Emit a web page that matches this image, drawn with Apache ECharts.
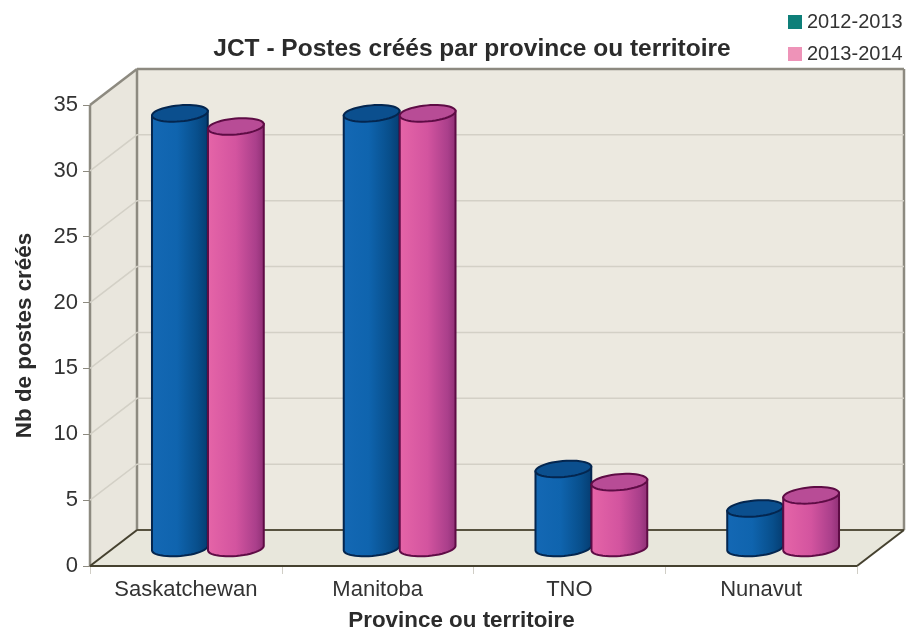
<!DOCTYPE html>
<html>
<head>
<meta charset="utf-8">
<style>
  html, body { margin: 0; padding: 0; background: #fff; }
  #main { width: 914px; height: 629px; }
</style>
<script src="https://cdn.jsdelivr.net/npm/echarts@6/dist/echarts.min.js"></script>
</head>
<body>
<div id="main"></div>
<script>
const provinces = ['Saskatchewan', 'Manitoba', 'TNO', 'Nunavut'];
const postes2012 = [33, 33, 6, 3];
const postes2013 = [32, 33, 5, 4];
const gridTicks = [5, 10, 15, 20, 25, 30];

// depth of the fake 3d box, in pixels
const DEPTH_X = 47;
const DEPTH_Y = 36;
// bars stand in the middle of the box depth
const BAR_DX = 22;
const BAR_DY = 18;
const BAR_W = 56;
const ELL_RY = 8;
const ELL_TILT = 5 * Math.PI / 180;

const font = '"Liberation Sans", Arial, sans-serif';

function ellipsePoint(cx, cy, t) {
  const ex = (BAR_W / 2) * Math.cos(t);
  const ey = ELL_RY * Math.sin(t);
  return [
    cx + ex * Math.cos(ELL_TILT) + ey * Math.sin(ELL_TILT),
    cy - ex * Math.sin(ELL_TILT) + ey * Math.cos(ELL_TILT)
  ];
}

function renderBox(params) {
  const g = params.coordSys;
  const x0 = g.x, x1 = g.x + g.width, y0 = g.y, y1 = g.y + g.height;
  const wall = '#ece9e0';
  const edge = { stroke: '#8d8a80', lineWidth: 2.5, fill: null };
  const line = (a, b, style) => ({ type: 'line', shape: { x1: a[0], y1: a[1], x2: b[0], y2: b[1] }, style });
  return {
    type: 'group',
    children: [
      { type: 'polygon', shape: { points: [[x0 + DEPTH_X, y0 - DEPTH_Y], [x1 + DEPTH_X, y0 - DEPTH_Y], [x1 + DEPTH_X, y1 - DEPTH_Y], [x0 + DEPTH_X, y1 - DEPTH_Y]] }, style: { fill: wall } },
      { type: 'polygon', shape: { points: [[x0, y0], [x0 + DEPTH_X, y0 - DEPTH_Y], [x0 + DEPTH_X, y1 - DEPTH_Y], [x0, y1]] }, style: { fill: '#e9e6dd' } },
      { type: 'polygon', shape: { points: [[x0, y1], [x0 + DEPTH_X, y1 - DEPTH_Y], [x1 + DEPTH_X, y1 - DEPTH_Y], [x1, y1]] }, style: { fill: '#e8e7dc' } },
      line([x0, y0], [x0 + DEPTH_X, y0 - DEPTH_Y], edge),
      line([x0 + DEPTH_X, y0 - DEPTH_Y], [x1 + DEPTH_X, y0 - DEPTH_Y], edge),
      line([x1 + DEPTH_X, y0 - DEPTH_Y], [x1 + DEPTH_X, y1 - DEPTH_Y], edge),
      line([x0 + DEPTH_X, y0 - DEPTH_Y], [x0 + DEPTH_X, y1 - DEPTH_Y], edge),
      line([x0, y0], [x0, y1], edge),
      line([x0 + DEPTH_X, y1 - DEPTH_Y], [x1 + DEPTH_X, y1 - DEPTH_Y], { stroke: '#57523f', lineWidth: 2 }),
      line([x0, y1], [x0 + DEPTH_X, y1 - DEPTH_Y], { stroke: '#45412f', lineWidth: 2 }),
      line([x1, y1], [x1 + DEPTH_X, y1 - DEPTH_Y], { stroke: '#45412f', lineWidth: 2 }),
      line([x0, y1], [x1, y1], { stroke: '#45412f', lineWidth: 2 })
    ]
  };
}

function renderGridLine(params, api) {
  const g = params.coordSys;
  const y = api.coord([0, api.value(1)])[1];
  return {
    type: 'polyline',
    shape: { points: [[g.x, y], [g.x + DEPTH_X, y - DEPTH_Y], [g.x + g.width + DEPTH_X, y - DEPTH_Y]] },
    style: { stroke: '#d3d0c6', lineWidth: 1.5, fill: null }
  };
}

function makeCylinder(side, bodyStops, topFill, outline) {
  return function (params, api) {
    const top = api.coord([api.value(0), api.value(1)]);
    const bottom = api.coord([api.value(0), 0]);
    const cx = top[0] + BAR_DX + side * BAR_W / 2;
    const cyTop = top[1] - BAR_DY;
    const cyBottom = bottom[1] - BAR_DY;

    const topPts = [];
    for (let i = 0; i < 48; i++) topPts.push(ellipsePoint(cx, cyTop, i / 48 * Math.PI * 2));

    const bodyPts = [ellipsePoint(cx, cyTop, Math.PI)];
    for (let i = 24; i >= 0; i--) bodyPts.push(ellipsePoint(cx, cyBottom, i / 24 * Math.PI));
    bodyPts.push(ellipsePoint(cx, cyTop, 0));

    return {
      type: 'group',
      children: [
        {
          type: 'polygon',
          shape: { points: bodyPts },
          style: {
            fill: { type: 'linear', x: 0, y: 0, x2: 1, y2: 0, colorStops: bodyStops },
            stroke: outline,
            lineWidth: 2
          }
        },
        {
          type: 'polygon',
          shape: { points: topPts },
          style: { fill: topFill, stroke: outline, lineWidth: 2 }
        }
      ]
    };
  };
}

const blueStops = [
  { offset: 0, color: '#1468b4' },
  { offset: 0.45, color: '#0f64ae' },
  { offset: 0.8, color: '#084f8c' },
  { offset: 1, color: '#053c70' }
];
const pinkStops = [
  { offset: 0, color: '#e665a8' },
  { offset: 0.5, color: '#d3549f' },
  { offset: 0.85, color: '#aa3f8b' },
  { offset: 1, color: '#8d2f74' }
];

const chart = echarts.init(document.getElementById('main'));

chart.setOption({
  backgroundColor: '#ffffff',
  animation: false,
  title: {
    text: 'JCT - Postes créés par province ou territoire',
    left: 467,
    top: 32,
    textAlign: 'center',
    textStyle: { fontFamily: font, fontSize: 24.5, fontWeight: 'bold', color: '#2b2b2b' }
  },
  legend: {
    orient: 'vertical',
    left: 783,
    top: 7,
    itemWidth: 14,
    itemHeight: 14,
    itemGap: 12,
    icon: 'rect',
    data: ['2012-2013', '2013-2014'],
    textStyle: { fontFamily: font, fontSize: 20, color: '#333333' }
  },
  grid: { left: 90, top: 105, width: 767, height: 461, outerBoundsMode: 'none' },
  xAxis: {
    type: 'category',
    data: provinces,
    name: 'Province ou territoire',
    nameLocation: 'middle',
    nameGap: 44,
    nameTextStyle: { fontFamily: font, fontSize: 22.4, fontWeight: 'bold', color: '#2b2b2b', padding: [0, 24, 0, 0] },
    axisLine: { show: false },
    axisTick: { show: true, length: 8, lineStyle: { color: '#d0cec6' } },
    axisLabel: { fontFamily: font, fontSize: 22, color: '#333333', margin: 13 },
    splitLine: { show: false }
  },
  yAxis: {
    type: 'value',
    min: 0,
    max: 35,
    interval: 5,
    name: 'Nb de postes créés',
    nameLocation: 'middle',
    nameGap: 54,
    nameTextStyle: { fontFamily: font, fontSize: 22.4, fontWeight: 'bold', color: '#2b2b2b' },
    axisLine: { show: false },
    axisTick: { show: true, length: 7, lineStyle: { color: '#8d8a80' } },
    axisLabel: { fontFamily: font, fontSize: 22, color: '#333333', margin: 12 },
    splitLine: { show: false }
  },
  series: [
    { type: 'custom', name: 'box', silent: true, z: 1, data: [[0, 0]], renderItem: renderBox },
    {
      type: 'custom',
      name: 'grid',
      silent: true,
      z: 2,
      data: gridTicks.map((t) => [0, t]),
      encode: { x: 0, y: 1 },
      renderItem: renderGridLine
    },
    {
      type: 'custom',
      name: '2012-2013',
      z: 3,
      itemStyle: { color: '#0e7f79' },
      data: postes2012.map((v, i) => [i, v]),
      encode: { x: 0, y: 1 },
      renderItem: makeCylinder(-1, blueStops, '#0b4f8e', '#04264f')
    },
    {
      type: 'custom',
      name: '2013-2014',
      z: 4,
      itemStyle: { color: '#ee93b8' },
      data: postes2013.map((v, i) => [i, v]),
      encode: { x: 0, y: 1 },
      renderItem: makeCylinder(1, pinkStops, '#b84c96', '#5e0c45')
    }
  ]
});
</script>
</body>
</html>
